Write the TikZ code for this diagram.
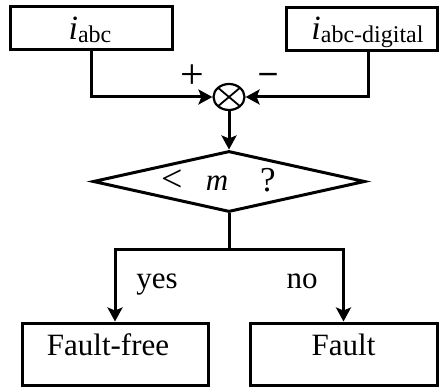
\documentclass[tikz,border=0pt]{standalone}
\usepackage{fontspec}
\setmainfont{Liberation Serif}
\usetikzlibrary{shapes.geometric,arrows.meta}
\newcommand\mainsize{\fontsize{31}{35}\selectfont}
\newcommand\isub[1]{{\fontsize{34}{38}\selectfont\itshape i}\raisebox{-3pt}{\fontsize{24}{27}\selectfont #1}}
\begin{document}
\begin{tikzpicture}[x=1pt,y=-1pt,
  line width=3pt,
  box/.style={draw,rectangle,inner sep=0pt},
  txt/.style={inner sep=0pt,anchor=base,font=\mainsize},
  arr/.style={-{Stealth[length=14pt,width=15pt,inset=3pt]}}]
\useasboundingbox (0,0) rectangle (439,387);
% top boxes
\node[box,minimum width=162pt,minimum height=43pt] (b1) at (91,28.5) {};
\node[box,minimum width=151pt,minimum height=43pt] (b2) at (361.5,29.5) {};
\node[inner sep=0pt,anchor=base] (t1) at (90,40) {\isub{abc}};
\node[inner sep=0pt,anchor=base] (t2) at (367.5,40) {\isub{abc-digital}};
% summing junction
\node[draw,ellipse,minimum width=31pt,minimum height=26pt,inner sep=0pt,line width=2.2pt,
  path picture={\draw[line width=1.8pt] (path picture bounding box.north west) -- (path picture bounding box.south east)
                 (path picture bounding box.north east) -- (path picture bounding box.south west);}] (sum) at (229,97) {};
\draw[arr] (b1.south) |- (sum.west);
\coordinate (b2out) at (368,51);
\draw[arr] (b2out) |- (sum.east);
\node[inner sep=0pt,anchor=center,font=\fontsize{42}{46}\selectfont] (plus) at (192,77) {+};
\node[inner sep=0pt,anchor=center,font=\fontsize{34}{38}\selectfont\bfseries] (minus) at (268,78) {–};
% decision
\node[draw,diamond,aspect=4.46,minimum width=272pt,minimum height=61pt,inner sep=0pt] (dec) at (229,181.5) {};
\node[inner sep=0pt,anchor=base,font=\fontsize{38}{42}\selectfont] (lt) at (172,192) {<};
\node[txt] (mm) at (217,191) {\textit{m}};
\node[inner sep=0pt,anchor=base,font=\fontsize{35}{40}\selectfont] (qq) at (268,192) {?};
\draw[arr] (sum.south) -- (dec.north);
% outputs
\node[box,minimum width=186pt,minimum height=62pt] (ff) at (115,354) {};
\node[box,minimum width=187pt,minimum height=62pt] (fault) at (343.5,354) {};
\node[txt] (fft) at (108,355) {Fault-free};
\node[txt] (ft) at (343.5,355) {Fault};
\coordinate (split) at (229,250);
\draw (dec.south) -- (split);
\draw[arr] (split) -| (ff.north);
\draw[arr] (split) -| (fault.north);
\node[txt] (yes) at (157,289) {yes};
\node[txt] (no) at (302,289) {no};
\end{tikzpicture}
\end{document}
